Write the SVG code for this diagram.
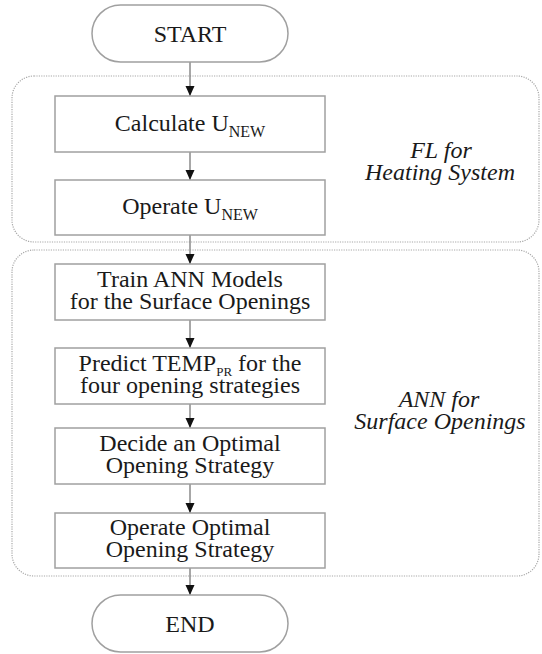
<svg xmlns="http://www.w3.org/2000/svg" width="542" height="654" viewBox="0 0 542 654">
<defs>
<style>
.box{fill:#fff;stroke:#a0a0a0;stroke-width:1.5}
.grp{fill:none;stroke:#a8a8a8;stroke-width:1.2;stroke-dasharray:1.2 1.2}
text{font-family:'Liberation Serif','Times New Roman',Times,serif;font-size:24px;fill:#1a1a1a;text-anchor:middle}
.lbl{font-style:italic}
.con{stroke:#8a8a8a;stroke-width:1.5;fill:none}
</style>
<marker id="ah" markerWidth="10" markerHeight="10" viewBox="0 0 10 10" refX="10" refY="5" orient="auto" markerUnits="userSpaceOnUse">
<path d="M0,0.5 L10,5 L0,9.5 Z" fill="#111"/>
</marker>
</defs>
<rect width="542" height="654" fill="#fff"/>

<g id="group-fl">
<rect class="grp" x="12" y="76" width="527" height="166" rx="22"/>
<text class="lbl" x="441" y="158">FL for</text>
<text class="lbl" x="440" y="180">Heating System</text>
</g>
<g id="group-ann">
<rect class="grp" x="12" y="250" width="527" height="326" rx="22"/>
<text class="lbl" x="439" y="407">ANN for</text>
<text class="lbl" x="440" y="429">Surface Openings</text>
</g>

<g id="connectors">
<line class="con" x1="190" y1="62" x2="190" y2="96" marker-end="url(#ah)"/>
<line class="con" x1="190" y1="152" x2="190" y2="180" marker-end="url(#ah)"/>
<line class="con" x1="190" y1="235" x2="190" y2="264" marker-end="url(#ah)"/>
<line class="con" x1="190" y1="320" x2="190" y2="348" marker-end="url(#ah)"/>
<line class="con" x1="190" y1="404" x2="190" y2="428" marker-end="url(#ah)"/>
<line class="con" x1="190" y1="484" x2="190" y2="513" marker-end="url(#ah)"/>
<line class="con" x1="190" y1="568" x2="190" y2="595" marker-end="url(#ah)"/>
</g>

<g id="start">
<rect class="box" x="92" y="5" width="196" height="57" rx="28.5"/>
<text x="190" y="42">START</text>
</g>
<g id="calculate">
<rect class="box" x="55" y="96" width="270" height="56"/>
<text x="190" y="131">Calculate U<tspan font-size="16" dy="6">NEW</tspan></text>
</g>
<g id="operate">
<rect class="box" x="55" y="180" width="270" height="55"/>
<text x="190" y="214">Operate U<tspan font-size="16" dy="6">NEW</tspan></text>
</g>
<g id="train">
<rect class="box" x="55" y="264" width="270" height="56"/>
<text x="190" y="287">Train ANN Models</text>
<text x="190" y="309">for the Surface Openings</text>
</g>
<g id="predict">
<rect class="box" x="55" y="348" width="270" height="56"/>
<text x="190" y="371">Predict TEMP<tspan font-size="13" dy="5">PR</tspan><tspan dy="-5"> for the</tspan></text>
<text x="190" y="393">four opening strategies</text>
</g>
<g id="decide">
<rect class="box" x="55" y="428" width="270" height="56"/>
<text x="190" y="451">Decide an Optimal</text>
<text x="190" y="473">Opening Strategy</text>
</g>
<g id="operate-optimal">
<rect class="box" x="55" y="513" width="270" height="55"/>
<text x="190" y="535">Operate Optimal</text>
<text x="190" y="557">Opening Strategy</text>
</g>
<g id="end">
<rect class="box" x="92" y="595" width="196" height="57" rx="28.5"/>
<text x="190" y="632">END</text>
</g>
</svg>
